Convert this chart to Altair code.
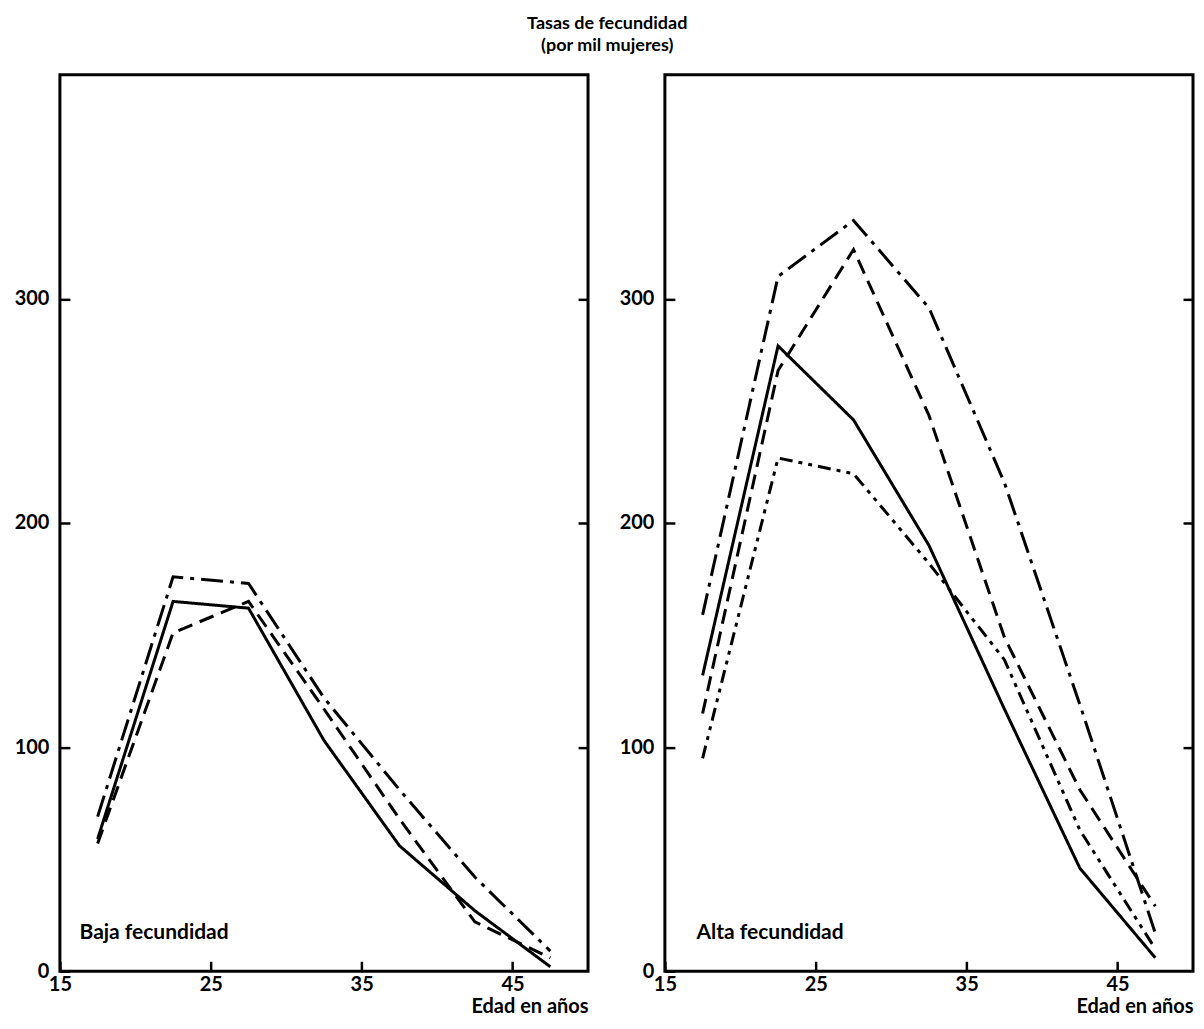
import altair as alt
import pandas as pd

ages = [17.5, 22.5, 27.5, 32.5, 37.5, 42.5, 47.5]

series_names = ["continua", "trazos", "trazo-punto", "trazo-dos-puntos"]

# Baja fecundidad
baja = {
    "continua": [59, 165, 162, 103, 56, 27, 2],
    "trazos": [57, 151, 165, 117, 68, 22, 6],
    "trazo-punto": [69, 176, 173, 122, 81, 42, 9],
}

# Alta fecundidad
alta = {
    "continua": [132, 279, 246, 190, 117, 46, 6],
    "trazos": [115, 268, 322, 248, 149, 81, 29],
    "trazo-punto": [159, 310, 335, 296, 218, 119, 17],
    "trazo-dos-puntos": [95, 229, 222, 182, 139, 63, 10],
}

dash_range = [[1, 0], [15, 8], [22, 7, 4, 7], [13, 6, 4, 6, 4, 6]]

x_ticks = [15, 25, 35, 45]
y_ticks = [0, 100, 200, 300]
y_ticks_right = [100, 200, 300]

panel_labels = ["Baja fecundidad", "Alta fecundidad"]
label_pos = [(16.3, 17), (17.1, 17)]

FONT = "Lato"
W, H = 529, 898


def long_df(d):
    rows = []
    for name, vals in d.items():
        for a, v in zip(ages, vals):
            rows.append({"edad": a, "tasa": v, "serie": name})
    return pd.DataFrame(rows)


def panel(d, label, pos):
    df = long_df(d)
    xscale = alt.Scale(domain=[15, 50], nice=False, zero=False)
    yscale = alt.Scale(domain=[0, 400], nice=False)
    xaxis = alt.Axis(
        values=x_ticks, offset=-10, tickSize=10, labelPadding=3,
        domain=False, grid=False, title="Edad en años",
        titleAnchor="end", titleAlign="right", titlePadding=2,
        titleFont=FONT, titleFontSize=20, titleFontWeight="bold",
        labelFont=FONT, labelFontSize=20, labelFontWeight="bold",
        labelFlush=False,
    )
    yaxis = alt.Axis(
        values=y_ticks, offset=-10, tickSize=10, labelPadding=11,
        domain=False, grid=False, title=None,
        labelFont=FONT, labelFontSize=20, labelFontWeight="bold",
    )
    yaxis_r = alt.Axis(
        orient="right", values=y_ticks_right, offset=-10, tickSize=10,
        labels=False, domain=False, grid=False, title=None,
    )
    lines = alt.Chart(df).mark_line(color="black", strokeWidth=3).encode(
        x=alt.X("edad:Q", scale=xscale, axis=xaxis),
        y=alt.Y("tasa:Q", scale=yscale, axis=yaxis),
        strokeDash=alt.StrokeDash(
            "serie:N",
            scale=alt.Scale(domain=series_names, range=dash_range),
            legend=None,
        ),
    )
    right_ticks = alt.Chart(df).mark_line(strokeOpacity=0).encode(
        x=alt.X("edad:Q", scale=xscale, axis=None),
        y=alt.Y("tasa:Q", scale=yscale, axis=yaxis_r),
        detail="serie:N",
    )
    txt = alt.Chart(pd.DataFrame({"t": [label]})).mark_text(
        align="left", baseline="middle", font=FONT, fontSize=21,
        fontWeight="bold", color="black",
    ).encode(
        x=alt.X(datum=pos[0], axis=None),
        y=alt.Y(datum=pos[1], axis=None),
        text="t:N",
    )
    return alt.layer(lines, right_ticks, txt).resolve_axis(
        x="independent", y="independent"
    ).properties(width=W, height=H)


left = panel(baja, panel_labels[0], label_pos[0])
right = panel(alta, panel_labels[1], label_pos[1])

chart = alt.hconcat(left, right, spacing=77, bounds="flush").properties(
    title=alt.TitleParams(
        text=["Tasas de fecundidad", "(por mil mujeres)"],
        font=FONT, fontSize=18, fontWeight="bold", color="black",
        anchor="middle", lineHeight=22, offset=18, dx=3,
    ),
    padding={"left": 4, "top": 6, "right": 0, "bottom": 0},
).configure_view(
    stroke="black", strokeWidth=3
).configure_axis(
    labelColor="black", tickColor="black", tickWidth=2.5, titleColor="black"
)

chart.save("out.html", embed_options={"renderer": "svg", "actions": False})
